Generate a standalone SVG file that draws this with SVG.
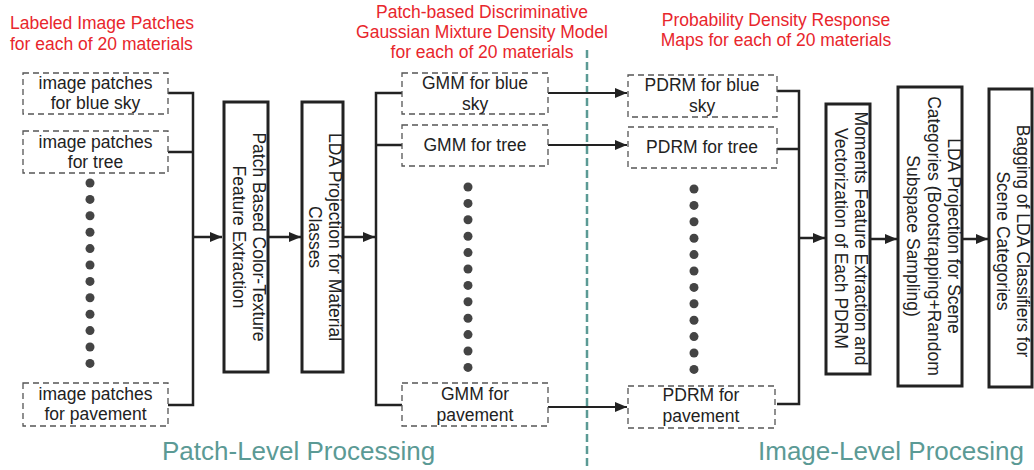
<svg xmlns="http://www.w3.org/2000/svg" width="1034" height="470" viewBox="0 0 1034 470">
<style>
.dbox{fill:#fff;stroke:#555;stroke-width:1.3;stroke-dasharray:6,4}
.sbox{fill:#fff;stroke:#222;stroke-width:3}
.t{font-family:"Liberation Sans",Arial,sans-serif;font-size:17.5px;fill:#222;text-anchor:middle}
.red{font-family:"Liberation Sans",Arial,sans-serif;font-size:17.5px;fill:#e8262c;text-anchor:middle}
.teal{font-family:"Liberation Sans",Arial,sans-serif;font-size:26px;fill:#5b9a95}
.con{fill:none;stroke:#222;stroke-width:2.5}
.dot{fill:#444}
</style>
<defs>
<marker id="ah" markerWidth="12" markerHeight="10" refX="12" refY="5" orient="auto" markerUnits="userSpaceOnUse">
<path d="M0,0 L12,5 L0,10 Z" fill="#222"/>
</marker>
</defs>

<g id="titles">
<text class="red" x="10" y="29" style="text-anchor:start">Labeled Image Patches</text>
<text class="red" x="10" y="50" style="text-anchor:start">for each of 20 materials</text>
<text class="red" x="482" y="18">Patch-based Discriminative</text>
<text class="red" x="482" y="38">Gaussian Mixture Density Model</text>
<text class="red" x="482" y="58">for each of 20 materials</text>
<text class="red" x="776" y="26">Probability Density Response</text>
<text class="red" x="776" y="46">Maps for each of 20 materials</text>
<text class="teal" x="162" y="460">Patch-Level Processing</text>
<text class="teal" x="758" y="460">Image-Level Procesing</text>
</g>

<line id="divider" x1="587" y1="50" x2="587" y2="470" stroke="#5b9a95" stroke-width="2.5" stroke-dasharray="8,4"/>

<g id="connectors">
<path class="con" d="M168,93 H193 V405 H168 M168,152 H193"/>
<path class="con" d="M193,237 H222" marker-end="url(#ah)"/>
<path class="con" d="M268,237 H301" marker-end="url(#ah)"/>
<path class="con" d="M343,237 H375" marker-end="url(#ah)"/>
<path class="con" d="M402,93 H376 V405 H402 M376,145 H402"/>
<path class="con" d="M548,93 H627" marker-end="url(#ah)" style="stroke-width:2"/>
<path class="con" d="M548,145 H627" marker-end="url(#ah)" style="stroke-width:2"/>
<path class="con" d="M548,407 H627" marker-end="url(#ah)" style="stroke-width:2"/>
<path class="con" d="M777,91 H799 V404 H777 M777,149 H799"/>
<path class="con" d="M799,238 H825" marker-end="url(#ah)"/>
<path class="con" d="M870,239 H897" marker-end="url(#ah)"/>
<path class="con" d="M962,239 H988" marker-end="url(#ah)"/>
</g>

<g id="patch-blue-sky">
<rect class="dbox" x="23" y="73" width="145" height="41"/>
<text class="t" x="95.5" y="89">image patches</text>
<text class="t" x="95.5" y="109">for blue sky</text>
</g>
<g id="patch-tree">
<rect class="dbox" x="23" y="131" width="145" height="42"/>
<text class="t" x="95.5" y="148">image patches</text>
<text class="t" x="95.5" y="168">for tree</text>
</g>
<g id="patch-dots">
<circle class="dot" cx="90" cy="183" r="4.5"/><circle class="dot" cx="90" cy="199.4" r="4.5"/><circle class="dot" cx="90" cy="215.8" r="4.5"/><circle class="dot" cx="90" cy="232.2" r="4.5"/><circle class="dot" cx="90" cy="248.6" r="4.5"/><circle class="dot" cx="90" cy="265" r="4.5"/><circle class="dot" cx="90" cy="281.4" r="4.5"/><circle class="dot" cx="90" cy="297.8" r="4.5"/><circle class="dot" cx="90" cy="314.2" r="4.5"/><circle class="dot" cx="90" cy="330.6" r="4.5"/><circle class="dot" cx="90" cy="347" r="4.5"/><circle class="dot" cx="90" cy="363.4" r="4.5"/>
</g>
<g id="patch-pavement">
<rect class="dbox" x="23" y="383" width="145" height="43"/>
<text class="t" x="95.5" y="400">image patches</text>
<text class="t" x="95.5" y="420">for pavement</text>
</g>

<g id="feature-extraction">
<rect class="sbox" x="224" y="102" width="44" height="270"/>
<text class="t" transform="translate(246,237) rotate(90)"><tspan x="0" y="-7">Patch Based Color-Texture</tspan><tspan x="0" y="13">Feature Extraction</tspan></text>
</g>
<g id="lda-material">
<rect class="sbox" x="302" y="102" width="41" height="270"/>
<text class="t" transform="translate(322.5,237) rotate(90)"><tspan x="0" y="-6.5">LDA Projection for Material</tspan><tspan x="0" y="13.5">Classes</tspan></text>
</g>

<g id="gmm-blue-sky">
<rect class="dbox" x="402" y="73" width="146" height="41"/>
<text class="t" x="475" y="89">GMM for blue</text>
<text class="t" x="475" y="110">sky</text>
</g>
<g id="gmm-tree">
<rect class="dbox" x="402" y="125" width="146" height="41"/>
<text class="t" x="475" y="151">GMM for tree</text>
</g>
<g id="gmm-dots">
<circle class="dot" cx="468" cy="187" r="4.5"/><circle class="dot" cx="468" cy="203.4" r="4.5"/><circle class="dot" cx="468" cy="219.8" r="4.5"/><circle class="dot" cx="468" cy="236.2" r="4.5"/><circle class="dot" cx="468" cy="252.6" r="4.5"/><circle class="dot" cx="468" cy="269" r="4.5"/><circle class="dot" cx="468" cy="285.4" r="4.5"/><circle class="dot" cx="468" cy="301.8" r="4.5"/><circle class="dot" cx="468" cy="318.2" r="4.5"/><circle class="dot" cx="468" cy="334.6" r="4.5"/><circle class="dot" cx="468" cy="351" r="4.5"/><circle class="dot" cx="468" cy="367.4" r="4.5"/>
</g>
<g id="gmm-pavement">
<rect class="dbox" x="402" y="383" width="146" height="43"/>
<text class="t" x="475" y="400">GMM for</text>
<text class="t" x="475" y="421">pavement</text>
</g>

<g id="pdrm-blue-sky">
<rect class="dbox" x="628" y="75" width="149" height="42"/>
<text class="t" x="702" y="91">PDRM for blue</text>
<text class="t" x="702" y="112">sky</text>
</g>
<g id="pdrm-tree">
<rect class="dbox" x="628" y="127" width="149" height="41"/>
<text class="t" x="702" y="153">PDRM for tree</text>
</g>
<g id="pdrm-dots">
<circle class="dot" cx="694" cy="189" r="4.5"/><circle class="dot" cx="694" cy="205.4" r="4.5"/><circle class="dot" cx="694" cy="221.8" r="4.5"/><circle class="dot" cx="694" cy="238.2" r="4.5"/><circle class="dot" cx="694" cy="254.6" r="4.5"/><circle class="dot" cx="694" cy="271" r="4.5"/><circle class="dot" cx="694" cy="287.4" r="4.5"/><circle class="dot" cx="694" cy="303.8" r="4.5"/><circle class="dot" cx="694" cy="320.2" r="4.5"/><circle class="dot" cx="694" cy="336.6" r="4.5"/><circle class="dot" cx="694" cy="353" r="4.5"/><circle class="dot" cx="694" cy="369.4" r="4.5"/>
</g>
<g id="pdrm-pavement">
<rect class="dbox" x="628" y="386" width="147" height="42"/>
<text class="t" x="701" y="401">PDRM for</text>
<text class="t" x="701" y="422">pavement</text>
</g>

<g id="moments">
<rect class="sbox" x="826" y="104" width="44" height="270"/>
<text class="t" transform="translate(848,238.5) rotate(90)"><tspan x="0" y="-7">Moments Feature Extraction and</tspan><tspan x="0" y="13">Vectorization of Each PDRM</tspan></text>
</g>
<g id="lda-scene">
<rect class="sbox" x="898" y="87" width="64" height="299"/>
<text class="t" transform="translate(930,236) rotate(90)"><tspan x="0" y="-18">LDA Projection for Scene</tspan><tspan x="0" y="2.5">Categories (Bootstrapping+Random</tspan><tspan x="0" y="23">Subspace Sampling)</tspan></text>
</g>
<g id="bagging">
<rect class="sbox" x="989" y="89" width="43" height="298"/>
<text class="t" transform="translate(1010.5,241) rotate(90)"><tspan x="0" y="-6.5">Bagging of LDA Classifiers for</tspan><tspan x="0" y="13.5">Scene Categories</tspan></text>
</g>
</svg>
